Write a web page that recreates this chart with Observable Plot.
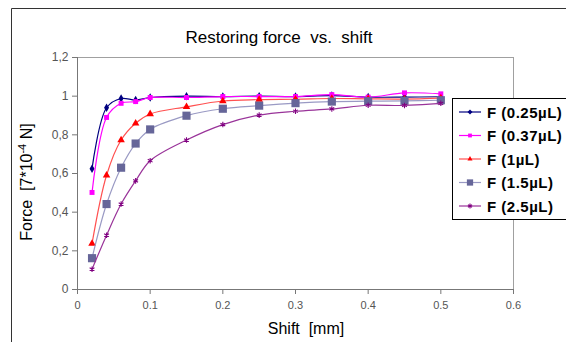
<!DOCTYPE html>
<html><head><meta charset="utf-8">
<script src="https://cdn.jsdelivr.net/npm/d3@7"></script>
<script src="https://cdn.jsdelivr.net/npm/@observablehq/plot@0.6"></script>
<style>
body{margin:0;background:#fff;}
#chart svg{font-family:"Liberation Sans",Arial,sans-serif;display:block;}
</style>
</head><body><div id="chart"></div>
<script>
// ---- data ----
const shift = [0.02,0.04,0.06,0.08,0.1,0.15,0.2,0.25,0.3,0.35,0.4,0.45,0.5];
const f025 = [0.625,0.94,0.988,0.98,0.993,1.0,0.998,1.0,0.998,1.003,0.995,0.995,0.997];
const f037 = [0.502,0.89,0.963,0.972,0.993,0.993,0.998,0.998,0.998,1.008,0.995,1.017,1.012];
const f1   = [0.237,0.591,0.773,0.86,0.908,0.945,0.975,0.982,0.984,0.988,0.986,0.985,0.99];
const f15  = [0.162,0.442,0.63,0.755,0.828,0.899,0.935,0.951,0.964,0.972,0.974,0.976,0.979];
const f25  = [0.105,0.281,0.442,0.562,0.666,0.773,0.853,0.902,0.922,0.934,0.953,0.952,0.963];
const seriesNames = ["F (0.25µL)","F (0.37µL)","F (1µL)","F (1.5µL)","F (2.5µL)"];
const xTicks = [0,0.1,0.2,0.3,0.4,0.5,0.6];
const yTicks = [0,0.2,0.4,0.6,0.8,1,1.2];
const titleText = "Restoring force  vs.  shift";
const xLabel = "Shift  [mm]";

// ---- styles ----
const styles = [
  {line:"#000080", mark:"#000080", symbol:"diamond", r:2.6, stroked:false},
  {line:"#FF00FF", mark:"#FF00FF", symbol:"square", r:2.8, stroked:false},
  {line:"#FF5050", mark:"#FF0000", symbol:"triangle", r:2.8, stroked:false},
  {line:"#9A9AC4", mark:"#666699", symbol:"square", r:4.6, stroked:false},
  {line:"#993399", mark:"#800080", symbol:"asterisk", r:2.6, stroked:true}
];
const values = [f025,f037,f1,f15,f25];
const rows = [];
values.forEach((arr,i)=>arr.forEach((v,j)=>rows.push({series:seriesNames[i], x:shift[j], y:v})));

const W = 566, H = 342;
const seriesMarks = styles.flatMap((s,i)=>{
  const d = rows.filter(r=>r.series===seriesNames[i]);
  return [
    Plot.line(d,{x:"x",y:"y",stroke:s.line,strokeWidth:1.2,curve:"catmull-rom"}),
    s.stroked
      ? Plot.dot(d,{x:"x",y:"y",symbol:s.symbol,r:s.r,stroke:s.mark,strokeWidth:1.1,fill:"none"})
      : Plot.dot(d,{x:"x",y:"y",symbol:s.symbol,r:s.r,fill:s.mark,stroke:"none"})
  ];
});

const chart = Plot.plot({
  width:W, height:H,
  marginLeft:77, marginRight:53, marginTop:57, marginBottom:53,
  style:{background:"#fff", fontFamily:"'Liberation Sans',Arial,sans-serif"},
  x:{domain:[0,0.6]},
  y:{domain:[0,1.2]},
  marks:[
    Plot.frame({stroke:"#a0a0a0"}),
    Plot.axisX({ticks:xTicks, tickFormat:d=>d===0?"0":String(d), tickSize:5, tickPadding:7, fontSize:11, color:"#555", stroke:"#777", label:null}),
    Plot.axisY({ticks:yTicks, tickFormat:d=>d===0?"0":String(d).replace(".",","), tickSize:5, tickPadding:4, fontSize:12, color:"#555", stroke:"#777", label:null}),
    Plot.ruleX([0],{stroke:"#777"}),
    Plot.ruleY([0],{stroke:"#777"}),
    ...seriesMarks
  ]
});
document.getElementById("chart").appendChild(chart);

// ---- decorations: outer border, title, axis labels, legend ----
const svg = d3.select(chart);
svg.append("line").attr("x1",11.5).attr("x2",11.5).attr("y1",8.5).attr("y2",H).attr("stroke","#333");
svg.append("line").attr("x1",11.5).attr("x2",W).attr("y1",8.5).attr("y2",8.5).attr("stroke","#333");

svg.append("text").attr("x",279).attr("y",43).attr("text-anchor","middle")
  .attr("font-size",17).attr("fill","#000").text(titleText);

svg.append("text").attr("x",306).attr("y",334).attr("text-anchor","middle")
  .attr("font-size",16).attr("fill","#000").text(xLabel);

const yl = svg.append("text").attr("transform","translate(32,182) rotate(-90)")
  .attr("text-anchor","middle").attr("font-size",16).attr("fill","#000");
yl.append("tspan").text("Force  [7*10");
yl.append("tspan").attr("font-size",11).attr("dy",-6).text("-4");
yl.append("tspan").attr("dy",6).text(" N]");

const lg = svg.append("g").attr("text-anchor","start");
lg.append("rect").attr("x",452.5).attr("y",98.5).attr("width",130).attr("height",121)
  .attr("fill","#fff").attr("stroke","#000");
const symMap = {diamond:d3.symbolDiamond2, square:d3.symbolSquare2, triangle:d3.symbolTriangle2, asterisk:d3.symbolAsterisk};
seriesNames.forEach((name,i)=>{
  const s = styles[i];
  const cy = 112 + i*23.5;
  lg.append("line").attr("x1",459).attr("x2",481).attr("y1",cy).attr("y2",cy).attr("stroke",s.line).attr("stroke-width",1.2);
  const sym = d3.symbol(symMap[s.symbol], Math.PI*s.r*s.r*0.75)();
  const p = lg.append("path").attr("d",sym).attr("transform",`translate(470,${cy})`);
  if (s.stroked) p.attr("fill","none").attr("stroke",s.mark).attr("stroke-width",1.1);
  else p.attr("fill",s.mark);
  lg.append("text").attr("x",487).attr("y",cy+5.5).attr("text-anchor","start").attr("font-size",15).attr("font-weight","bold")
    .attr("letter-spacing",0.5).attr("fill","#000").text(name);
});
</script>
</body></html>
